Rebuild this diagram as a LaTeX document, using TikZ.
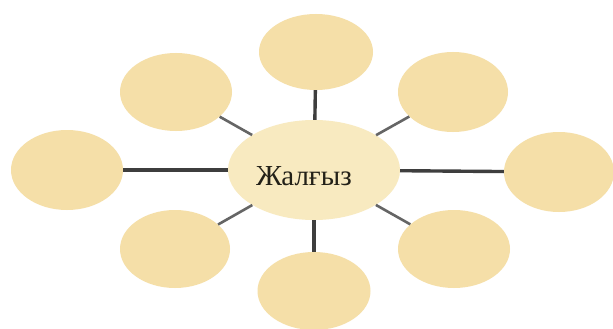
\documentclass[tikz,border=0pt]{standalone}
\usepackage{fontspec}
\setmainfont{Liberation Serif}
\usetikzlibrary{shapes.geometric}
\definecolor{petal}{RGB}{245,223,168}
\definecolor{hub}{RGB}{248,234,192}
\definecolor{spoke}{RGB}{62,62,62}
\definecolor{ink}{RGB}{35,33,24}
\tikzset{
  petalnode/.style={ellipse,fill=petal,draw=none,inner sep=0pt,minimum width=#1},
  hubnode/.style={ellipse,fill=hub,draw=none,inner sep=0pt,minimum width=172pt,minimum height=100pt},
  spokeline/.style={draw=spoke,line width=3.4pt},
  diagline/.style={draw=spoke!80,line width=2.6pt},
  hubtext/.style={font=\fontsize{29}{34}\selectfont,text=ink,inner sep=0pt}
}
\begin{document}
\begin{tikzpicture}[x=1pt,y=-1pt]
\useasboundingbox[fill=white] (0,0) rectangle (613,329);
\node[petalnode=114pt,minimum height=76pt] (top) at (316,52) {};
\node[petalnode=112pt,minimum height=78pt] (tl) at (176,92) {};
\node[petalnode=110pt,minimum height=80pt] (tr) at (453,92) {};
\node[petalnode=112pt,minimum height=80pt] (l) at (67,170) {};
\node[petalnode=110pt,minimum height=80pt] (r) at (559,172) {};
\node[petalnode=110pt,minimum height=78pt] (bl) at (175,249) {};
\node[petalnode=112pt,minimum height=78pt] (br) at (454,249) {};
\node[petalnode=113pt,minimum height=78pt] (b) at (314,291) {};
\node[hubnode] (c) at (314,170) {};
\node[hubtext] (ctext) at (304,176) {Жалғыз};
\draw[spokeline] (c) -- (top);
\draw[spokeline] (c) -- (l);
\draw[spokeline] (c) -- (r);
\draw[spokeline] (c) -- (b);
\draw[diagline] (c) -- (tl);
\draw[diagline] (c) -- (tr);
\draw[diagline] (c) -- (bl);
\draw[diagline] (c) -- (br);
\end{tikzpicture}
\end{document}
